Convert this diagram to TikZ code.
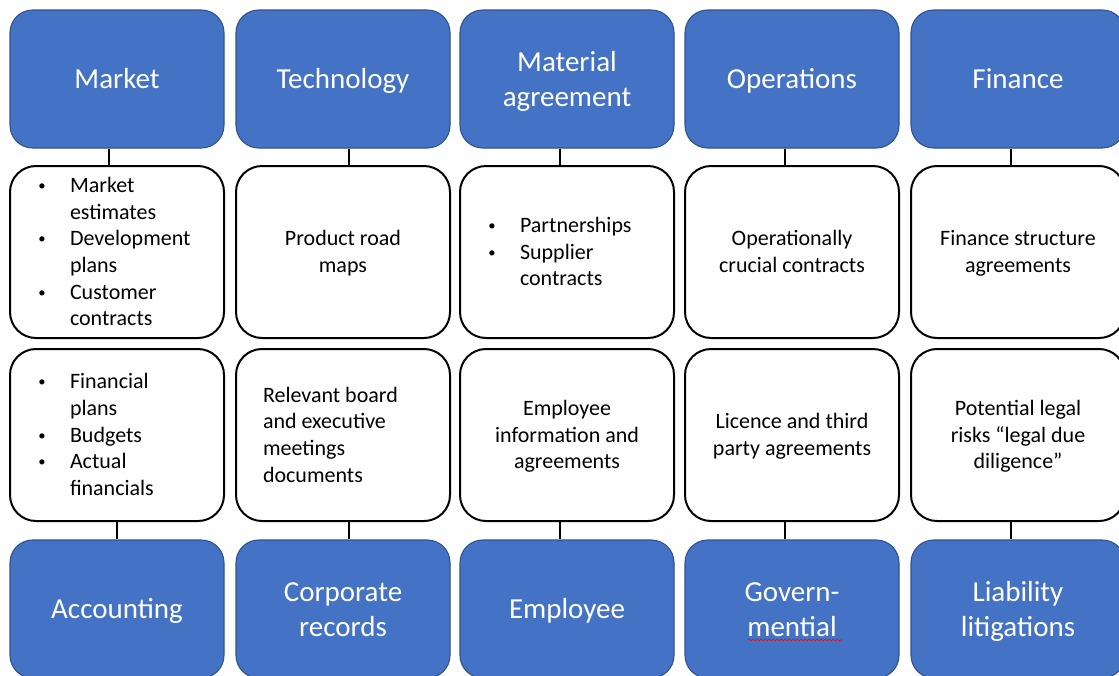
\documentclass[tikz,border=0pt]{standalone}
\usepackage{fontspec}
\setmainfont{Carlito}
\usetikzlibrary{calc,decorations.pathmorphing}

\definecolor{tileblue}{HTML}{4472C4}
\definecolor{tileedge}{HTML}{2F528F}

% bullet marker and hanging indent for the list boxes
\newcommand\itembullet{\makebox[24.75pt][l]{\hspace{1pt}\raisebox{1.6pt}{\fontsize{11pt}{11pt}\selectfont\textbullet}}}
\newcommand\itemgap{\hspace*{24.75pt}}
% invisible strut giving every text block the same ascent and descent
\newcommand\linestrut{\rule[-0.27em]{0pt}{1.2em}}

\tikzset{
  struts/.style={execute at begin node=\linestrut, execute at end node=\linestrut},
  header/.style={rectangle, rounded corners=17pt, fill=tileblue, draw=tileedge,
    line width=0.8pt, minimum width=160.5pt, minimum height=103.5pt,
    inner sep=0pt, text=white, text width=160.5pt, align=flush center, struts,
    font=\fontsize{21.75pt}{26.25pt}\selectfont},
  detail/.style={rectangle, rounded corners=19.5pt, fill=white, draw=black,
    line width=1.5pt, minimum width=160.5pt, minimum height=129pt,
    inner sep=0pt, text width=160.5pt, align=flush center, struts,
    font=\fontsize{16.5pt}{20pt}\selectfont},
  listbox/.style={detail, align=flush left, text width=120pt, inner xsep=20.25pt},
  link/.style={draw=black, line width=1.5pt},
  spellmark/.style={draw=red, line width=0.5pt,
    decorate, decoration={snake, amplitude=0.7pt, segment length=3pt}},
}

\begin{document}
\begin{tikzpicture}[x=0.75pt, y=-0.75pt]
  \useasboundingbox (0,0) rectangle (1119,675);
  \fill[white] (0,0) rectangle (1119,675);
  \clip (0,0) rectangle (1119,675);

  % top row of topic tiles
  \node[header] (h1) at (117,79)  {Market};
  \node[header] (h2) at (343,79)  {Technology};
  \node[header] (h3) at (567,79)  {Material\\agreement};
  \node[header] (h4) at (792,79)  {Operations};
  \node[header] (h5) at (1018,79) {Finance};

  % first row of detail boxes
  \node[listbox] (a1) at (117,252) {\itembullet Market\\\itemgap estimates\\\itembullet Development\\\itemgap plans\\\itembullet Customer\\\itemgap contracts};
  \node[detail]  (a2) at (343,252) {Product road\\maps};
  \node[listbox] (a3) at (567,252) {\itembullet Partnerships\\\itembullet Supplier\\\itemgap contracts};
  \node[detail]  (a4) at (792,252) {Operationally\\crucial contracts};
  \node[detail]  (a5) at (1018,252) {Finance structure\\agreements};

  % second row of detail boxes
  \node[listbox] (b1) at (117,435) {\itembullet Financial\\\itemgap plans\\\itembullet Budgets\\\itembullet Actual\\\itemgap financials};
  \node[listbox] (b2) at (343,435) {Relevant board\\and executive\\meetings\\documents};
  \node[detail]  (b3) at (567,435) {Employee\\information and\\agreements};
  \node[detail]  (b4) at (792,435) {Licence and third\\party agreements};
  \node[detail]  (b5) at (1018,435) {Potential legal\\risks “legal due\\diligence”};

  % bottom row of topic tiles
  \node[header] (f1) at (117,609)  {Accounting};
  \node[header] (f2) at (343,609)  {Corporate\\records};
  \node[header] (f3) at (567,609)  {Employee};
  \node[header] (f4) at (792,609)  {Govern-\\mential};
  \node[header] (f5) at (1018,609) {Liability\\litigations};

  % connectors between tiles and detail boxes
  \draw[link] ([xshift=-6pt]h1.south)    -- ([xshift=-6pt]a1.north);
  \draw[link] ([xshift=4.5pt]h2.south)   -- ([xshift=4.5pt]a2.north);
  \draw[link] ([xshift=-5.25pt]h3.south) -- ([xshift=-5.25pt]a3.north);
  \draw[link] ([xshift=-5.25pt]h4.south) -- ([xshift=-5.25pt]a4.north);
  \draw[link] ([xshift=-5.25pt]h5.south) -- ([xshift=-5.25pt]a5.north);

  \draw[link] (b1.south) -- (f1.north);
  \draw[link] ([xshift=4.5pt]b2.south)   -- ([xshift=4.5pt]f2.north);
  \draw[link] ([xshift=-5.25pt]b3.south) -- ([xshift=-5.25pt]f3.north);
  \draw[link] ([xshift=-5.25pt]b4.south) -- ([xshift=-5.25pt]f4.north);
  \draw[link] ([xshift=-5.25pt]b5.south) -- ([xshift=-5.25pt]f5.north);

  % wavy underline beneath the second line of the governmental tile
  \draw[spellmark] ($(f4.center)+(-44,31)$) -- ($(f4.center)+(50,31)$);
\end{tikzpicture}
\end{document}
